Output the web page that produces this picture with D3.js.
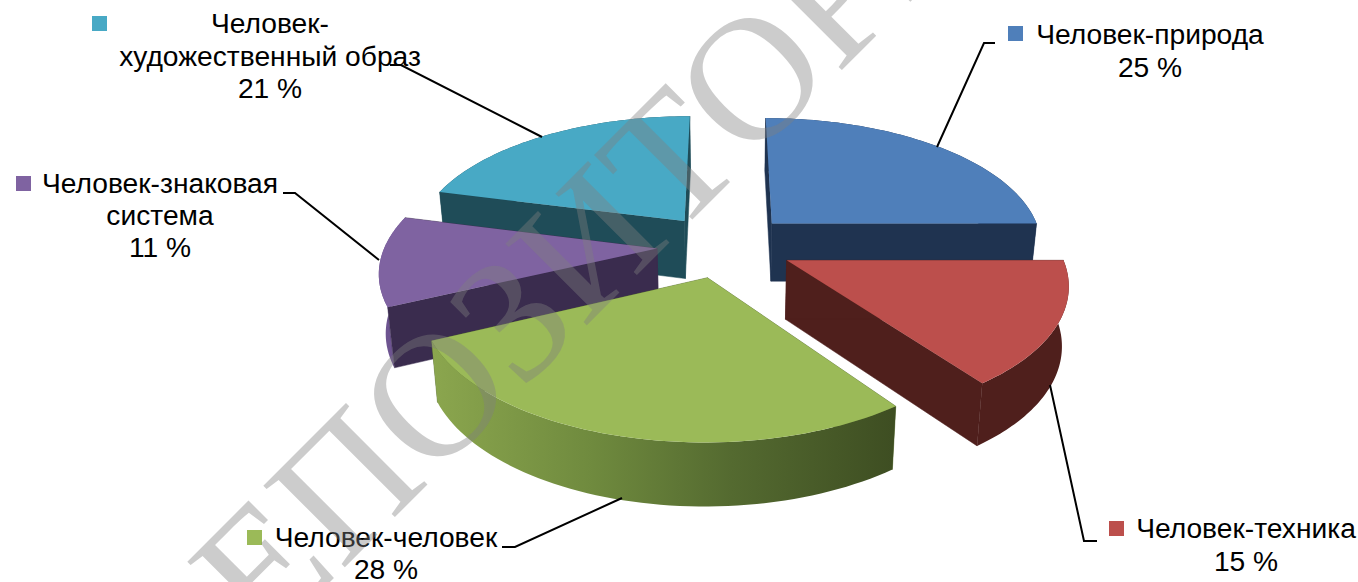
<!DOCTYPE html>
<meta charset="utf-8">
<style>
body { margin: 0; background: #fff; }
svg { display: block; }
.label text { font: 28.2px "Liberation Sans", Arial, sans-serif; fill: #000; text-anchor: middle; }
.leader { fill: none; stroke: #000; stroke-width: 2; }
.watermark { font: 176px "Liberation Serif", serif; fill: #808080; fill-opacity: 0.4; }
</style>
<svg></svg>
<script src="https://d3js.org/d3.v7.min.js"></script>
<script>

// data
var categories = ["Человек-природа", "Человек-техника", "Человек-человек", "Человек-знаковая система", "Человек-художественный образ"];
var values = [25, 15, 28, 11, 21];
var colors = ["#4f7fba", "#bc4f4c", "#9bba58", "#7f63a1", "#48a9c5"];
var wallColors = ["#1f3350", "#4f1f1c", "#566c31", "#3a2c4e", "#1f4c58"];

// label lines and layout: [x, y] for each text line
var labelLines = [
    [["Человек-природа", 1150, 44], ["25 %", 1150, 77]],
    [["Человек-техника", 1246, 538], ["15 %", 1246, 571]],
    [["Человек-человек", 386, 547], ["28 %", 386, 579]],
    [["Человек-знаковая", 160, 193], ["система", 160, 225], ["11 %", 160, 257]],
    [["Человек-", 270, 33], ["художественный образ", 270, 66], ["21 %", 270, 98]]
];
var keyPos = [[1008, 26], [1109, 521], [247, 530], [16, 176], [92, 16]];
var leaders = [
    [[937, 147], [984, 43], [995, 43]],
    [[1050, 385], [1084, 541], [1097, 541]],
    [[622, 498], [515, 547], [502, 547]],
    [[379, 260], [295, 193], [283, 193]],
    [[542, 137], [401, 65], [390, 65]]
];

var width = 1358,
    height = 582

var svg = d3.select("svg").attr("width", width).attr("height", height)

// tilted, slightly perspective pie
var cx = 725, cy = 245.5, R = 272, A = 128, persp = 0.155, explode = 0.25;
var depth = d3.scaleLinear().domain([-1, 1]).range([54, 63]);

function project(X, Y, z) {
    var k = 1 - persp * Y;
    var x = cx + R * X / k,
        y = cy + A * Y / k;
    if (z) {
        x = cx + (x - cx) * 0.98;
        y += depth(Y);
    }
    return [x, y];
}

var pie = d3.pie().sort(null).value(function(d) { return d; });
var line = d3.line();

var defs = svg.append("defs");
var grad = defs.append("linearGradient")
    .attr("id", "greenWall")
    .attr("gradientUnits", "userSpaceOnUse")
    .attr("x1", 432).attr("x2", 893).attr("y1", 0).attr("y2", 0);
grad.selectAll("stop")
    .data([[0, "#8ba64e"], [0.35, "#6f8a3e"], [0.65, "#546a30"], [1, "#3e4e22"]])
    .enter().append("stop")
    .attr("offset", function(d) { return d[0]; })
    .attr("stop-color", function(d) { return d[1]; });

var arcs = pie(values);
// back to front
var order = [4, 0, 3, 1, 2];

order.forEach(function(i) {
    var d = arcs[i];
    var mid = (d.startAngle + d.endAngle) / 2;
    var ox = explode * Math.sin(mid),
        oy = -explode * Math.cos(mid);

    var angles = d3.range(61).map(function(j) {
        return d.startAngle + (d.endAngle - d.startAngle) * j / 60;
    });
    var rim = angles.map(function(a) { return [ox + Math.sin(a), oy - Math.cos(a)]; });
    var top = rim.map(function(p) { return project(p[0], p[1], 0); });
    var bottom = rim.map(function(p) { return project(p[0], p[1], 1); });
    var apexTop = project(ox, oy, 0),
        apexBottom = project(ox, oy, 1);

    var g = svg.append("g").attr("class", "slice");
    var wall = i == 2 ? "url(#greenWall)" : i == 3 ? "#6d5490" : wallColors[i];

    function drawOuter() {
        g.append("path")
            .attr("d", line(top.concat(bottom.slice().reverse())) + "Z")
            .attr("fill", wall);
    }
    function drawRadial() {
        [[top[60], bottom[60]], [top[0], bottom[0]]].forEach(function(e) {
            g.append("path")
                .attr("d", line([apexTop, e[0], e[1], apexBottom]) + "Z")
                .attr("fill", wallColors[i])
                .attr("stroke", wallColors[i])
                .attr("stroke-width", 0.5);
        });
    }

    // front slices show the rim over their cut faces, back ones the other way round
    if (i == 1 || i == 2) {
        drawRadial();
        drawOuter();
    } else {
        drawOuter();
        drawRadial();
    }

    g.append("path")
        .attr("d", line([apexTop].concat(top)) + "Z")
        .attr("fill", colors[i]);
});

// labels
var label = svg.selectAll(".label")
    .data(categories)
    .enter().append("g")
    .attr("class", "label");

label.append("rect")
    .attr("x", function(d, i) { return keyPos[i][0]; })
    .attr("y", function(d, i) { return keyPos[i][1]; })
    .attr("width", 15)
    .attr("height", 15)
    .attr("fill", function(d, i) { return colors[i]; });

label.each(function(d, i) {
    d3.select(this).selectAll("text")
        .data(labelLines[i])
        .enter().append("text")
        .attr("x", function(t) { return t[1]; })
        .attr("y", function(t) { return t[2]; })
        .text(function(t) { return t[0]; });
});

svg.selectAll(".leader")
    .data(leaders)
    .enter().append("path")
    .attr("class", "leader")
    .attr("d", function(d) { return line(d); });

svg.append("text")
    .attr("class", "watermark")
    .attr("transform", "translate(196,716) rotate(-45)")
    .text("РЕПОЗИТОРИЙ");

</script>
